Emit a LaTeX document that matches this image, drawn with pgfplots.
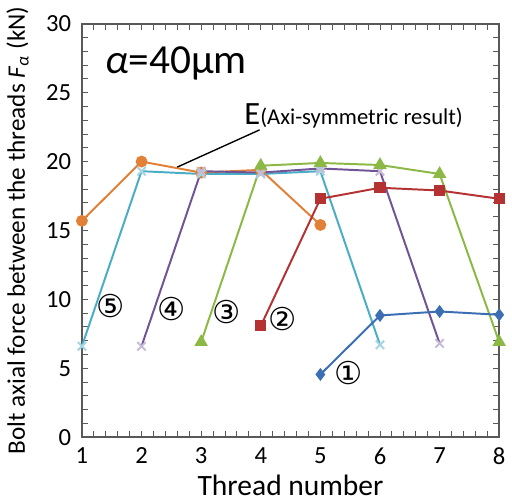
\documentclass[border=0pt]{standalone}
\usepackage{pgfplots}
\pgfplotsset{compat=1.18}
\usepackage{fontspec}
\setmainfont{Carlito}
\newfontfamily\sym{DejaVu Sans}
\definecolor{cOr}{RGB}{226,128,55}
\definecolor{cCy}{RGB}{75,172,198}
\definecolor{cPu}{RGB}{112,84,150}
\definecolor{cGr}{RGB}{140,185,70}
\definecolor{cRe}{RGB}{180,50,50}
\definecolor{cBl}{RGB}{60,110,180}
\begin{document}
\begin{tikzpicture}
\begin{axis}[
  scale only axis, width=212pt, height=210pt,
  xmin=1, xmax=8, ymin=0, ymax=30,
  xtick={1,...,8}, ytick={0,5,...,30},
  minor x tick num=4, minor y tick num=4,
  tick align=inside, major tick length=3pt, minor tick length=3pt,
  every tick/.style={gray!70!black, line width=0.5pt},
  axis line style={gray!70!black, line width=0.8pt},
  tick label style={font=\fontsize{12.5}{13}\selectfont},
  xticklabel style={yshift=-2pt},
  yticklabel style={xshift=-2pt},
  /pgf/number format/assume math mode=true,
  xlabel={\fontsize{15}{16}\selectfont Thread number},
  ylabel={\fontsize{12.8}{14}\selectfont Bolt axial force between the threads \textit{F}\textsubscript{\textit{α}} (kN)},
  xlabel style={yshift=2pt},
  ylabel style={yshift=2pt},
  clip=false,
]
\addplot[cOr, line width=1pt, mark=*, mark size=2.5pt, mark options={fill=cOr, draw=cOr}] coordinates {(1,15.7) (2,20.0) (3,19.2) (4,19.4) (5,15.4)};
\addplot[cCy, line width=1pt, mark=x, mark size=3pt, mark options={draw=cCy!50}] coordinates {(1,6.6) (2,19.3) (3,19.1) (4,19.1) (5,19.3) (6,6.7)};
\addplot[cPu, line width=1pt, mark=x, mark size=3pt, mark options={draw=cPu!40}] coordinates {(2,6.6) (3,19.3) (4,19.2) (5,19.5) (6,19.3) (7,6.8)};
\addplot[cGr, line width=1pt, mark=triangle*, mark size=3pt, mark options={fill=cGr, draw=cGr}] coordinates {(3,6.9) (4,19.7) (5,19.9) (6,19.75) (7,19.1) (8,6.9)};
\addplot[cRe, line width=1pt, mark=square*, mark size=2.3pt, mark options={fill=cRe, draw=cRe}] coordinates {(4,8.07) (5,17.3) (6,18.1) (7,17.9) (8,17.3)};
\addplot[cBl, line width=1pt, mark=diamond*, mark size=2.5pt, mark options={fill=cBl, draw=cBl}] coordinates {(5,4.55) (6,8.83) (7,9.12) (8,8.88)};
\node[font=\fontsize{21}{22}\selectfont] at (axis cs:2.58,27.1) {\textit{α}=40μm};
\node[anchor=base west, inner sep=0pt] at (axis cs:3.72,22.7) {\fontsize{16.5}{17}\selectfont E\fontsize{11.5}{13}\selectfont(Axi-symmetric result)};
\draw[black, line width=0.7pt] (axis cs:3.98,22.3) -- (axis cs:2.6,19.6);
\node[font=\sym\fontsize{16}{17}\selectfont] at (axis cs:1.48,9.5) {⑤};
\node[font=\sym\fontsize{16}{17}\selectfont] at (axis cs:2.5,9.3) {④};
\node[font=\sym\fontsize{16}{17}\selectfont] at (axis cs:3.42,9.07) {③};
\node[font=\sym\fontsize{16}{17}\selectfont] at (axis cs:4.36,8.6) {②};
\node[font=\sym\fontsize{16}{17}\selectfont] at (axis cs:5.47,4.64) {①};
\end{axis}
\end{tikzpicture}
\end{document}
